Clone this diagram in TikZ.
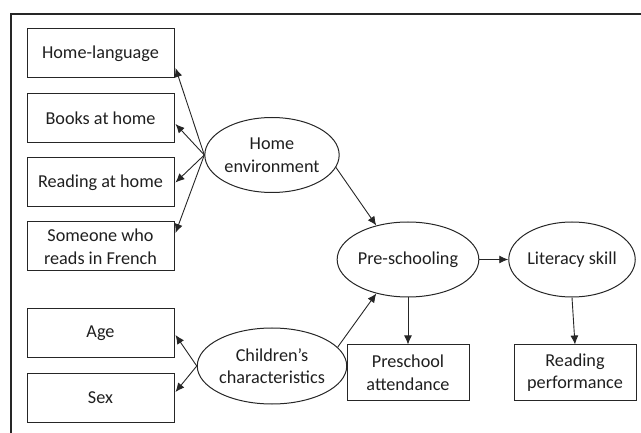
\documentclass[tikz,border=0pt]{standalone}
\usepackage{fontspec}
\setmainfont{Carlito}
\usetikzlibrary{shapes.geometric,arrows.meta,calc}
\begin{document}
\begin{tikzpicture}[x=1pt,y=-1pt,
  every node/.style={font=\fontsize{18.2}{22.5}\selectfont, text=black!88},
  box/.style={draw=black!85, line width=1pt, rectangle, minimum width=147pt, minimum height=49pt, inner sep=0pt, align=center},
  rbox/.style={draw=black!85, line width=1pt, rectangle, minimum width=122pt, minimum height=55pt, inner sep=0pt, align=center},
  oval/.style={draw=black!85, line width=1pt, ellipse, minimum width=130pt, minimum height=75pt, inner sep=0pt, align=center},
  arr/.style={draw=black!85, line width=0.9pt, -{Latex[length=9pt,width=8pt]}}]
\useasboundingbox (0,0) rectangle (641,433);
% frame (top and left edges only)
\coordinate (ftl) at (11,14);
\coordinate (ftr) at (641,14);
\coordinate (fbl) at (11,433);
\draw[line width=1.3pt, black!85] (ftr) -- (ftl) -- (fbl);
% left boxes
\node[box] (hl) at (100.5,53.5) {Home-language};
\node[box] (bh) at (100.5,118) {Books at home};
\node[box] (rh) at (100.5,182.5) {Reading at home};
\node[box] (sf) at (100.5,246.5) {Someone who\\reads in French};
\node[box] (age) at (100.5,333.5) {Age};
\node[box] (sex) at (100.5,398) {Sex};
% ellipses
\node[oval] (he) at (272,155) {Home\\environment};
\node[oval, minimum height=76pt] (cc) at (272,366) {Children's\\characteristics};
\node[oval] (ps) at (408,259.5) {Pre-schooling};
\node[oval, minimum width=126pt] (ls) at (572,259.5) {Literacy skill};
% right boxes
\node[rbox] (pa) at (408,372.5) {Preschool\\attendance};
\node[rbox] (rp) at (575,372.5) {Reading\\performance};
% connectors
\draw[arr] (he.west) -- ($(hl.east)+(1,14.5)$);
\draw[arr] (he.west) -- ($(bh.east)+(1,6)$);
\draw[arr] (he.west) -- ($(rh.east)+(1,0)$);
\draw[arr] (he.west) -- ($(sf.east)+(1,-13.5)$);
\draw[arr] (cc.west) -- ($(age.east)+(1,1.5)$);
\draw[arr] (cc.west) -- ($(sex.east)+(1,-6)$);
\draw[arr] (he.-11) -- (ps.133);
\draw[arr] (cc.16) -- (ps.227);
\draw[arr] (ps.east) -- (ls.west);
\draw[arr] (ps.south) -- (pa.north);
\draw[arr] (ls.south) -- (rp.north);
\end{tikzpicture}
\end{document}
